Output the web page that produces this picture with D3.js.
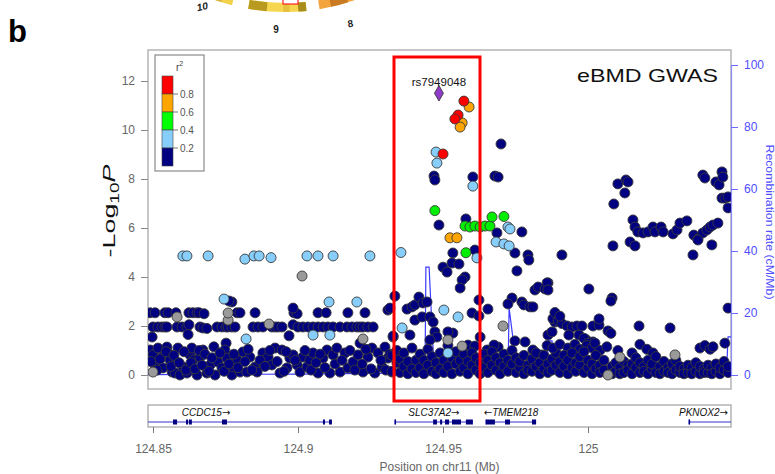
<!DOCTYPE html>
<html>
<head>
<meta charset="utf-8">
<script src="https://cdn.jsdelivr.net/npm/d3@7"></script>
<style>
  body { margin: 0; background: #fff; }
  svg { display: block; font-family: "Liberation Sans", Arial, sans-serif; }
</style>
</head>
<body>
<svg id="chart" width="775" height="474"></svg>
<script>
// ---- data ----
// SNPs: [position (Mb), -log10 P]
const leadSnp = { name: 'rs7949048', pos: 124.9486, logp: 11.5 }

const snpRed = [[124.9572,11.18],[124.9552,10.61],[124.9541,10.45],[124.9500,9.02]]

const snpOrange = [[124.9590,10.94],[124.9566,10.29],[124.9559,10.12],[124.9524,5.60],[124.9548,5.60]]

const snpGreen = [[124.9472,6.71],[124.9579,4.99],[124.9576,6.08],[124.9593,6.04],[124.9610,6.08],
  [124.9628,6.04],[124.9645,6.08],[124.9662,6.08],[124.9669,6.45],[124.9710,6.47]]

const snpLightBlue = [[124.8603,4.86],[124.8617,4.86],[124.8690,4.86],[124.8817,4.73],[124.8848,4.86],
  [124.8866,4.86],[124.8907,4.79],[124.9031,4.86],[124.9069,4.86],[124.9121,4.86],[124.9248,4.86],
  [124.9355,5.00],[124.8745,3.10],[124.9107,2.98],[124.9203,2.98],[124.8821,1.47],[124.9052,1.63],
  [124.9110,1.63],[124.9476,9.10],[124.9479,8.65],[124.9603,7.71],[124.9724,6.04],[124.9731,5.96],
  [124.9683,5.43],[124.9710,5.35],[124.9728,5.27],[124.9617,4.78],[124.9503,2.65],[124.9552,2.37],
  [124.9359,1.92],[124.9517,0.90]]

const snpGrey = [[124.9014,4.04],[124.8759,2.24],[124.8759,2.53],[124.8583,2.37],[124.8900,2.08],
  [124.9224,1.47],[124.8500,0.12],[124.9707,2.00],[124.9517,1.43],[124.9566,1.18],[125.0300,0.82],
  [125.0110,0.73],[125.0069,0.00]]

const snpNavy = [
  // left, row near 2.5
  [124.8490,2.54],[124.8507,2.54],[124.8541,2.54],[124.8552,2.54],[124.8579,2.54],[124.8624,2.54],
  [124.8638,2.54],[124.8652,2.54],[124.8659,2.54],[124.8676,2.50],[124.8790,2.54],[124.8800,2.54],
  [124.8852,2.54],[124.8986,2.54],[124.8997,2.50],[124.9069,2.54],[124.9097,2.54],[124.9172,2.54],
  [124.9231,2.54],[124.9310,2.65],[124.8983,2.73],
  // left, row near 2.0
  [124.8500,1.96],[124.8517,1.96],[124.8531,1.96],[124.8541,1.96],[124.8548,1.96],[124.8583,1.96],
  [124.8600,1.96],[124.8617,1.96],[124.8624,2.05],[124.8662,1.96],[124.8672,1.92],[124.8686,1.90],
  [124.8721,1.96],[124.8738,1.96],[124.8752,1.96],[124.8759,1.96],[124.8772,1.96],[124.8783,1.96],
  [124.8845,1.96],[124.8862,1.96],[124.8879,1.96],[124.8910,1.96],[124.8921,1.96],[124.8931,1.96],
  [124.8945,1.96],[124.8983,2.05],[124.9000,1.96],[124.9017,1.96],[124.9034,1.96],[124.9052,1.96],
  [124.9069,1.96],[124.9086,1.96],[124.9103,1.96],[124.9121,1.96],[124.9145,1.96],[124.9169,1.96],
  [124.9186,1.96],[124.9203,1.96],[124.9214,1.96],[124.9224,1.96],[124.9241,1.96],[124.9259,1.96],
  [124.8497,1.55],[124.8621,1.65],[124.8969,1.60],[124.9328,1.55],[124.9214,1.30],[124.8752,1.30],
  [124.8772,2.98],[124.8762,3.02],
  // left, low cloud
  [124.8490,1.02],[124.8500,0.82],[124.8507,0.41],[124.8517,1.10],[124.8531,0.73],[124.8534,0.29],
  [124.8548,1.14],[124.8552,0.90],[124.8559,0.61],[124.8566,0.12],[124.8576,0.08],[124.8586,1.10],
  [124.8593,0.00],[124.8603,0.33],[124.8617,0.08],[124.8628,0.82],[124.8634,1.10],[124.8638,0.61],
  [124.8652,0.00],[124.8662,0.73],[124.8672,1.02],[124.8686,0.08],[124.8697,0.41],[124.8714,0.00],
  [124.8724,0.53],[124.8738,0.29],[124.8748,1.02],[124.8755,0.69],[124.8772,0.00],[124.8776,0.33],
  [124.8790,0.61],[124.8800,0.12],[124.8810,0.94],[124.8824,0.12],[124.8834,0.73],[124.8852,0.33],
  [124.8859,0.12],[124.8879,0.90],[124.8897,0.73],[124.8910,0.41],[124.8921,1.10],[124.8938,0.08],
  [124.8945,1.02],[124.8962,0.29],[124.8972,0.69],[124.8983,0.82],[124.8997,0.41],[124.9007,0.12],
  [124.9017,0.73],[124.9031,0.33],[124.9041,0.61],[124.9052,0.90],[124.9069,0.08],[124.9086,0.69],
  [124.9100,1.02],[124.9110,0.08],[124.9121,0.82],[124.9134,1.10],[124.9145,0.12],[124.9162,0.90],
  [124.9172,0.29],[124.9190,0.53],[124.9207,0.82],[124.9224,0.12],[124.9241,0.73],[124.9255,1.10],
  [124.9265,0.08],[124.9276,0.90],[124.9290,0.33],[124.9300,1.14],[124.9310,0.69],[124.9324,0.12],
  [124.8493,0.55],[124.8514,0.20],[124.8524,0.65],[124.8545,0.95],[124.8562,0.35],[124.8572,0.80],
  [124.8590,0.50],[124.8607,0.95],[124.8614,0.20],[124.8631,0.50],[124.8645,0.25],[124.8659,1.00],
  [124.8669,0.40],[124.8679,0.85],[124.8693,0.15],[124.8703,0.70],[124.8710,1.15],[124.8731,0.90],
  [124.8745,0.15],[124.8762,0.45],[124.8779,0.85],[124.8793,0.30],[124.8817,0.55],[124.8828,1.05],
  [124.8841,0.20],[124.8869,0.60],[124.8886,0.35],[124.8903,1.00],[124.8928,0.55],[124.8952,0.15],
  [124.8959,0.95],[124.8990,0.60],[124.9024,1.00],[124.9045,0.20],[124.9062,0.50],[124.9076,0.85],
  [124.9093,0.30],[124.9128,0.45],[124.9152,0.60],[124.9179,1.00],[124.9196,0.20],[124.9221,0.45],
  [124.9234,1.05],[124.9252,0.25],[124.9286,0.60],[124.9303,0.20],[124.9317,0.85],
  // middle
  [124.9334,3.22],[124.9317,2.73],[124.9376,2.69],[124.9393,2.78],[124.9403,2.86],[124.9417,3.18],
  [124.9431,2.94],[124.9445,2.98],[124.9403,2.24],[124.9428,2.37],[124.9455,2.37],[124.9466,2.16],
  [124.9472,1.76],[124.9479,1.55],[124.9328,1.59],[124.9386,1.63],[124.9534,1.71],[124.9628,1.55],
  [124.9586,1.22],[124.9610,1.18],[124.9652,1.02],[124.9690,1.14],[124.9486,6.12],[124.9579,6.37],
  [124.9686,5.80],[124.9772,5.84],[124.9748,4.98],[124.9793,4.90],[124.9796,4.69],[124.9755,4.25],
  [124.9534,4.98],[124.9531,4.57],[124.9500,4.40],[124.9514,4.20],[124.9555,4.53],[124.9610,5.10],
  [124.9576,4.00],[124.9566,3.88],[124.9559,3.55],[124.9624,3.06],[124.9655,2.69],[124.9600,2.53],
  [124.9624,2.41],[124.9738,3.14],[124.9772,2.98],[124.9779,2.86],[124.9800,2.78],[124.9810,2.78],
  [124.9817,3.47],[124.9828,3.59],[124.9862,3.76],[124.9852,3.51],[124.9724,2.90],[124.9893,2.37],
  [124.9886,2.16],[124.9862,1.63],[124.9876,1.76],[124.9748,1.39],[124.9783,1.35],[124.9810,1.02],
  [124.9469,8.12],[124.9472,7.96],[124.9603,8.08],[124.9700,9.43],[124.9679,8.12],[124.9690,8.08],
  [124.9455,1.43],[124.9517,1.76],[124.9676,1.22],[124.9840,0.82],
  // middle, low cloud
  [124.9324,0.15],[124.9324,0.80],[124.9341,0.50],[124.9341,1.00],[124.9352,0.10],[124.9352,0.65],
  [124.9365,0.35],[124.9365,0.90],[124.9379,0.05],[124.9379,0.55],[124.9393,0.25],[124.9393,1.10],
  [124.9407,0.60],[124.9407,0.10],[124.9421,0.30],[124.9421,0.85],[124.9434,0.05],[124.9434,0.60],
  [124.9448,0.40],[124.9448,1.05],[124.9462,0.15],[124.9462,0.75],[124.9476,0.50],[124.9476,0.05],
  [124.9490,0.25],[124.9490,0.90],[124.9503,0.60],[124.9503,0.10],[124.9517,0.35],[124.9517,1.20],
  [124.9531,0.05],[124.9531,0.70],[124.9545,0.45],[124.9545,0.95],[124.9559,0.15],[124.9559,0.60],
  [124.9572,0.30],[124.9572,0.85],[124.9586,0.05],[124.9586,0.55],[124.9600,0.40],[124.9600,0.90],
  [124.9614,0.20],[124.9614,0.70],[124.9628,0.50],[124.9628,0.05],[124.9641,0.30],[124.9641,0.85],
  [124.9655,0.10],[124.9655,0.60],[124.9669,0.40],[124.9669,0.95],[124.9683,0.20],[124.9683,0.70],
  [124.9697,0.05],[124.9697,0.50],[124.9710,0.35],[124.9710,0.85],[124.9724,0.15],[124.9724,0.60],
  [124.9738,0.45],[124.9738,1.00],[124.9752,0.10],[124.9752,0.70],[124.9765,0.30],[124.9765,0.55],
  [124.9779,0.05],[124.9779,0.80],[124.9793,0.40],[124.9793,0.20],[124.9807,0.15],[124.9807,0.65],
  [124.9821,0.35],[124.9821,0.90],[124.9834,0.05],[124.9834,0.50],[124.9848,0.25],[124.9848,0.80],
  [124.9862,0.45],[124.9862,0.10],[124.9876,0.20],[124.9876,0.65],[124.9890,0.40],[124.9890,0.90],
  // right, upper
  [125.0089,6.98],[125.0103,7.80],[125.0131,7.96],[125.0138,7.88],[125.0127,7.43],
  [125.0155,6.33],[125.0162,6.04],[125.0172,5.84],[125.0190,5.80],[125.0207,5.84],[125.0224,6.04],
  [125.0231,5.84],[125.0252,6.04],[125.0259,5.84],[125.0293,5.76],[125.0307,5.92],[125.0317,6.20],
  [125.0341,6.29],[125.0365,5.71],[125.0379,5.55],[125.0396,5.80],[125.0410,5.92],[125.0421,6.04],
  [125.0431,6.12],[125.0448,6.20],[125.0396,8.16],[125.0403,8.04],[125.0441,7.88],[125.0452,7.76],
  [125.0462,8.29],[125.0465,8.08],[125.0462,7.22],[125.0472,7.22],[125.0483,7.27],[125.0483,6.82],
  [125.0427,5.31],[125.0086,5.27],[125.0145,5.43],[125.0162,5.27],[124.9910,4.90],[125.0362,4.90],
  [125.0379,5.51],[124.9859,3.76],[124.9862,3.47],[125.0003,3.51],[125.0083,3.14],[125.0079,3.02],
  [125.0176,2.00],[125.0283,1.92],[125.0483,2.73],
  // right, middle
  [124.9879,2.30],[124.9897,2.20],[124.9910,2.10],[124.9928,2.00],[124.9945,1.96],[124.9962,2.00],
  [124.9979,2.00],[125.0017,2.00],[125.0038,2.04],[125.0069,1.80],[125.0079,1.70],[124.9886,2.55],
  [124.9903,2.40],[124.9934,1.63],[124.9969,1.63],[124.9993,1.45],[125.0017,1.35],[125.0038,2.29],
  [124.9986,1.50],[125.0000,1.30],[125.0472,1.30],
  [124.9859,1.20],[124.9879,1.10],[124.9903,1.25],[124.9931,1.10],[124.9955,1.25],[124.9972,1.05],
  [124.9996,1.20],[125.0014,1.10],[125.0024,1.30],[125.0041,1.00],[125.0065,1.15],[125.0103,1.00],
  [125.0152,0.90],[125.0179,1.25],[125.0203,1.05],[125.0224,0.90],[125.0386,1.10],[125.0403,1.20],
  [125.0421,1.05],[125.0431,1.15],
  // right, low band
  [124.9903,0.10],[124.9903,0.55],[124.9917,0.35],[124.9917,0.80],[124.9931,0.05],[124.9931,0.60],
  [124.9945,0.30],[124.9945,0.90],[124.9958,0.15],[124.9958,0.50],[124.9972,0.40],[124.9972,0.75],
  [124.9986,0.10],[124.9986,0.95],[125.0000,0.30],[125.0000,0.60],[125.0014,0.05],[125.0014,0.45],
  [125.0027,0.25],[125.0027,0.80],[125.0041,0.40],[125.0041,0.10],[125.0055,0.20],[125.0055,0.60],
  [125.0083,0.35],[125.0083,0.05],[125.0096,0.15],[125.0096,0.50],[125.0110,0.30],[125.0110,0.05],
  [125.0124,0.10],[125.0124,0.55],[125.0138,0.40],[125.0138,0.20],[125.0152,0.05],[125.0152,0.45],
  [125.0165,0.30],[125.0165,0.70],[125.0179,0.10],[125.0179,0.50],[125.0193,0.35],[125.0193,0.15],
  [125.0207,0.05],[125.0207,0.60],[125.0221,0.25],[125.0221,0.45],[125.0234,0.10],[125.0234,0.75],
  [125.0248,0.35],[125.0248,0.05],[125.0262,0.15],[125.0262,0.55],[125.0276,0.30],[125.0276,0.10],
  [125.0290,0.05],[125.0290,0.45],[125.0303,0.20],[125.0303,0.60],[125.0317,0.10],[125.0317,0.35],
  [125.0331,0.25],[125.0331,0.05],[125.0345,0.10],[125.0345,0.40],[125.0358,0.30],[125.0358,0.05],
  [125.0372,0.15],[125.0372,0.50],[125.0386,0.05],[125.0386,0.35],[125.0400,0.25],[125.0400,0.10],
  [125.0414,0.10],[125.0414,0.40],[125.0427,0.30],[125.0427,0.05],[125.0441,0.15],[125.0441,0.45],
  [125.0455,0.05],[125.0455,0.30],[125.0469,0.20],[125.0469,0.55],[125.0483,0.10],[125.0483,0.35]
]

// recombination rate (cM/Mb)
const recPos  = [124.8483, 124.9007, 124.9317, 124.9438, 124.9441, 124.9452, 124.9466, 124.9472,
                 124.9724, 124.9728, 124.9755, 124.9760, 124.9859, 124.9862, 124.9876, 124.9879,
                 125.0059, 125.0065, 125.0479, 125.0483, 125.0493]
const recRate = [0.1, 0.3, 0.6, 0.8, 34.8, 34.8, 8, 0.6,
                 0.6, 21.6, 1.6, 0.6, 0.6, 11, 11, 0.6,
                 0.6, 3.9, 3.9, 12.3, 12.3]

// genes
const geneNames  = ['CCDC15', 'SLC37A2', 'TMEM218', 'PKNOX2']
const geneStart  = [124.8249, 124.9334, 124.9648, 125.0348]
const geneEnd    = [124.9117, 124.9603, 124.9821, 125.3000]
const geneStrand = ['+', '+', '-', '+']
const geneExons  = [
  [[124.8569,124.8583],[124.8614,124.8621],[124.8624,124.8634],[124.8738,124.8755],[124.9086,124.9093],[124.9107,124.9117]],
  [[124.9334,124.9338],[124.9466,124.9479],[124.9490,124.9497],[124.9507,124.9521],[124.9531,124.9562],[124.9579,124.9603]],
  [[124.9648,124.9679],[124.9714,124.9731],[124.9807,124.9821]],
  [[125.0348,125.0351]]
]

// axis ticks
const logpTicks = [0, 2, 4, 6, 8, 10, 12]
const recTicks = [0, 20, 40, 60, 80, 100]
const posTicks = [124.85, 124.9, 124.95, 125]

// r2 legend
const r2Colors = ['#ff0000', '#ffa500', '#00ff00', '#87cefa', '#000080']
const r2Labels = ['0.8', '0.6', '0.4', '0.2']

// circos fragment at the top (panel a)
const chromNames = ['10', '9', '8']
const chromArcs  = [[3.397, 3.75], [3.039, 3.318], [2.60, 2.976]]
const chromFill  = ['#f2d24a', '#f6d64e', '#f4a43c']
const chromDark  = [[3.45, 3.75, '#d7b43a'], [3.229, 3.318, '#b89a20'], [3.039, 3.078, '#a88d1a'],
                    [3.12, 3.15, '#e6c23c'], [2.836, 2.920, '#c97a22'], [2.72, 2.76, '#dc8e2c']]

// ---- layout ----
const svg = d3.select('#chart')
const P = { left: 148, right: 731, top: 50, bottom: 389 }

const x = d3.scaleLinear().domain([124.85, 125.0]).range([153, 588])
const y = d3.scaleLinear().domain([0, 12]).range([375, 81])
const yRec = d3.scaleLinear().domain([0, 100]).range([375, 65])

svg.append('rect').attr('width', 775).attr('height', 474).attr('fill', '#fff')

// circos fragment
const cg = svg.append('g').attr('transform', 'translate(285,-198)')
const ring = d3.arc().innerRadius(201).outerRadius(210)
chromArcs.forEach((a, i) => {
  cg.append('path').attr('d', ring({ startAngle: a[0], endAngle: a[1] })).attr('fill', chromFill[i])
})
chromDark.forEach(b => {
  cg.append('path').attr('d', ring({ startAngle: b[0], endAngle: b[1] })).attr('fill', b[2])
})
svg.append('rect').attr('x', 283).attr('y', -2).attr('width', 15).attr('height', 6)
  .attr('fill', '#fff').attr('stroke', '#ff2020').attr('stroke-width', 1.2)
const chromLabelPos = [[203, 10, -12], [276, 33, 0], [351, 27, -10]]
chromNames.forEach((n, i) => {
  const p = chromLabelPos[i]
  svg.append('text').attr('transform', `translate(${p[0]},${p[1]}) rotate(${p[2]})`)
    .attr('text-anchor', 'middle').attr('font-size', 10).attr('font-style', i === 0 ? 'italic' : 'normal')
    .attr('font-weight', 'bold').attr('fill', '#222').text(n)
})

svg.append('text').attr('x', 8).attr('y', 42).attr('font-size', 31).attr('font-weight', 'bold').text('b')

// plot frame
svg.append('defs').append('clipPath').attr('id', 'clip')
  .append('rect').attr('x', P.left).attr('y', P.top).attr('width', P.right - P.left).attr('height', P.bottom - P.top)

svg.append('rect').attr('x', P.left).attr('y', P.top).attr('width', P.right - P.left).attr('height', P.bottom - P.top)
  .attr('fill', 'none').attr('stroke', '#b5b5b5').attr('stroke-width', 1.5)

const plot = svg.append('g').attr('clip-path', 'url(#clip)')

// recombination line
const rec = recPos.map((p, i) => [p, recRate[i]])
plot.append('path').datum(rec)
  .attr('d', d3.line().x(d => x(d[0])).y(d => yRec(d[1])))
  .attr('fill', 'none').attr('stroke', '#3b3bff').attr('stroke-width', 1.2)

// points
function drawPoints(data, fill) {
  plot.append('g').selectAll('circle').data(data).join('circle')
    .attr('cx', d => x(d[0])).attr('cy', d => y(d[1])).attr('r', 5)
    .attr('fill', fill).attr('stroke', '#3a3a3a').attr('stroke-width', 0.9)
}
drawPoints(snpNavy, '#000080')
drawPoints(snpGrey, '#9a9a9a')
drawPoints(snpLightBlue, '#87cefa')
drawPoints(snpGreen, '#00ee00')
drawPoints(snpOrange, '#ffa500')
drawPoints(snpRed, '#ff0000')

plot.append('path')
  .attr('d', d3.symbol().type(d3.symbolDiamond).size(70)())
  .attr('transform', `translate(${x(leadSnp.pos)},${y(leadSnp.logp)})`)
  .attr('fill', '#8e3cc8').attr('stroke', '#3a3a3a').attr('stroke-width', 0.9)

svg.append('text').attr('x', x(leadSnp.pos)).attr('y', y(leadSnp.logp) - 7)
  .attr('text-anchor', 'middle').attr('font-size', 11.5).attr('fill', '#111').text(leadSnp.name)

// left axis
const axL = svg.append('g').attr('transform', `translate(${P.left},0)`)
  .call(d3.axisLeft(y).tickValues(logpTicks).tickSize(7).tickPadding(6))
axL.select('.domain').remove()
axL.selectAll('line').attr('stroke', '#888')
axL.selectAll('text').attr('fill', '#666').attr('font-size', 12).attr('font-family', '"Liberation Sans", Arial, sans-serif')

// right axis
const axR = svg.append('g').attr('transform', `translate(${P.right},0)`)
  .call(d3.axisRight(yRec).tickValues(recTicks).tickSize(7).tickSizeOuter(0).tickPadding(6))
axR.select('.domain').attr('stroke', '#8c8cff').attr('stroke-width', 1.2)
axR.selectAll('line').attr('stroke', '#6b6bff')
axR.selectAll('text').attr('fill', '#4d4dff').attr('font-size', 12).attr('font-family', '"Liberation Sans", Arial, sans-serif')

// titles
const yt = svg.append('text').attr('transform', 'translate(115,211) rotate(-90)')
  .attr('text-anchor', 'middle').attr('font-size', 17).attr('fill', '#111')
  .attr('textLength', 93).attr('lengthAdjust', 'spacingAndGlyphs')
yt.append('tspan').text('-Log')
yt.append('tspan').attr('font-size', 12).attr('dy', 4).text('10')
yt.append('tspan').attr('font-style', 'italic').attr('dy', -4).text('P')

svg.append('text').attr('transform', 'translate(766,222) rotate(90)')
  .attr('text-anchor', 'middle').attr('font-size', 11).attr('fill', '#4d4dff')
  .attr('textLength', 155).attr('lengthAdjust', 'spacingAndGlyphs')
  .text('Recombination rate (cM/Mb)')

svg.append('text').attr('x', 718).attr('y', 82).attr('text-anchor', 'end')
  .attr('font-size', 19).attr('fill', '#111')
  .attr('textLength', 141).attr('lengthAdjust', 'spacingAndGlyphs').text('eBMD GWAS')

// legend
const lg = svg.append('g')
lg.append('rect').attr('x', 155).attr('y', 55).attr('width', 49).attr('height', 116)
  .attr('fill', '#fff').attr('stroke', '#8a8a8a').attr('stroke-width', 1.2)
const lt = lg.append('text').attr('x', 176).attr('y', 71).attr('font-size', 10).attr('fill', '#444')
lt.append('tspan').text('r')
lt.append('tspan').attr('font-size', 7).attr('dy', -5).text('2')
const legY = d3.scaleLinear().domain([0, 5]).range([76, 166])
r2Colors.forEach((c, i) => {
  lg.append('rect').attr('x', 162).attr('y', legY(i)).attr('width', 11).attr('height', legY(i + 1) - legY(i))
    .attr('fill', c).attr('stroke', '#444').attr('stroke-width', 0.6)
})
r2Labels.forEach((t, i) => {
  lg.append('line').attr('x1', 173).attr('x2', 178).attr('y1', legY(i + 1)).attr('y2', legY(i + 1))
    .attr('stroke', '#777')
  lg.append('text').attr('x', 180).attr('y', legY(i + 1)).attr('dy', '0.35em')
    .attr('font-size', 10).attr('fill', '#555').text(t)
})

// highlight box
svg.append('rect').attr('x', 394).attr('y', 57).attr('width', 86).attr('height', 344)
  .attr('fill', 'none').attr('stroke', '#ff0000').attr('stroke-width', 3)

// gene track
const G = { top: 405, bottom: 427, line: 422 }
svg.append('defs').append('clipPath').attr('id', 'gclip')
  .append('rect').attr('x', P.left).attr('y', G.top).attr('width', P.right - P.left).attr('height', G.bottom - G.top)
svg.append('rect').attr('x', P.left).attr('y', G.top).attr('width', P.right - P.left).attr('height', G.bottom - G.top)
  .attr('fill', '#fff').attr('stroke', '#a8a8a8').attr('stroke-width', 1.3)
const gg = svg.append('g').attr('clip-path', 'url(#gclip)')
geneNames.forEach((name, i) => {
  gg.append('line').attr('x1', x(geneStart[i])).attr('x2', x(geneEnd[i]))
    .attr('y1', G.line).attr('y2', G.line).attr('stroke', '#3434c8').attr('stroke-width', 1)
  gg.append('line').attr('x1', x(geneStart[i])).attr('x2', x(geneStart[i]))
    .attr('y1', G.line - 2.5).attr('y2', G.line + 2.5).attr('stroke', '#3434c8').attr('stroke-width', 1)
  geneExons[i].forEach(e => {
    gg.append('rect').attr('x', x(e[0])).attr('y', G.line - 2.5)
      .attr('width', Math.max(1.2, x(e[1]) - x(e[0]))).attr('height', 5).attr('fill', '#000080')
  })
  const t = gg.append('text').attr('y', 416).attr('font-size', 10).attr('font-style', 'italic')
    .attr('fill', '#111').attr('text-anchor', 'middle')
  const arrow = a => t.append('tspan').attr('font-family', '"DejaVu Sans", sans-serif')
    .attr('font-style', 'normal').attr('font-size', 10).text(a)
  if (geneStrand[i] === '-') arrow('\u2190')
  t.append('tspan').text(name)
  if (geneStrand[i] === '+') arrow('\u2192')
  const w = t.node().getComputedTextLength()
  const cx = Math.max(P.left + 3 + w / 2, Math.min(P.right - 3 - w / 2, x((geneStart[i] + geneEnd[i]) / 2)))
  t.attr('x', cx)
})

// bottom axis
const axB = svg.append('g').attr('transform', `translate(0,${G.bottom})`)
  .call(d3.axisBottom(x).tickValues(posTicks).tickSize(6).tickPadding(11).tickFormat(d => String(+d.toFixed(2))))
axB.select('.domain').remove()
axB.selectAll('line').attr('stroke', '#777')
axB.selectAll('text').attr('fill', '#666').attr('font-size', 12).attr('font-family', '"Liberation Sans", Arial, sans-serif')

svg.append('text').attr('x', (P.left + P.right) / 2).attr('y', 471).attr('text-anchor', 'middle')
  .attr('font-size', 12).attr('fill', '#666').text('Position on chr11 (Mb)')
</script>
</body>
</html>
